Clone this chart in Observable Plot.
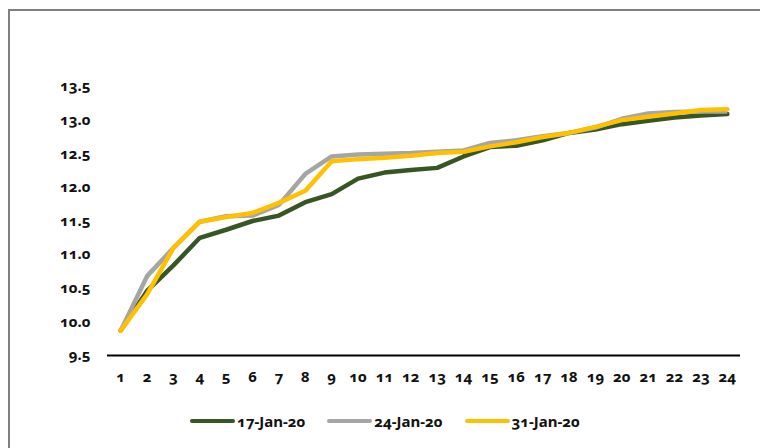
<!DOCTYPE html>
<html>
<head>
<meta charset="utf-8">
<script src="https://cdn.jsdelivr.net/npm/d3@7"></script>
<script src="https://cdn.jsdelivr.net/npm/@observablehq/plot@0.6"></script>
<style>
  html, body { margin: 0; padding: 0; background: #fff; width: 760px; height: 448px; overflow: hidden; }
  body { position: relative; font-family: "Noto Sans", Lato, sans-serif; }
  #frame { position: absolute; left: 8px; top: 9px; width: 800px; height: 500px; border: 2px solid #808080; box-sizing: border-box; }
  #chart { position: absolute; left: 0; top: 0; }
  #legend { position: absolute; left: 190px; top: 411px; display: flex; font-size: 15px; font-weight: 700; color: #111; font-feature-settings: "onum" 1; line-height: 20px; }
  .item { display: flex; align-items: center; }
  .sw { width: 45px; height: 4px; border-radius: 2px; margin-right: 2px; }
  svg text { font-feature-settings: "onum" 1; }
</style>
</head>
<body>
<div id="frame"></div>
<div id="chart"></div>
<div id="legend"></div>
<script>
const periods = d3.range(1, 25);
const seriesNames = ["17-Jan-20", "24-Jan-20", "31-Jan-20"];
const seriesColors = ["#375623", "#A5A5A5", "#FFC000"];
const jan17 = [9.87, 10.46, 10.84, 11.25, 11.37, 11.50, 11.58, 11.78, 11.90, 12.13, 12.22, 12.26, 12.29, 12.46, 12.60, 12.62, 12.70, 12.81, 12.86, 12.94, 12.99, 13.04, 13.07, 13.09];
const jan24 = [9.87, 10.68, 11.10, 11.49, 11.57, 11.58, 11.74, 12.20, 12.46, 12.49, 12.50, 12.51, 12.53, 12.55, 12.66, 12.70, 12.76, 12.81, 12.89, 13.02, 13.10, 13.12, 13.13, 13.13];
const jan31 = [9.87, 10.41, 11.10, 11.49, 11.56, 11.62, 11.77, 11.95, 12.39, 12.42, 12.44, 12.47, 12.51, 12.53, 12.61, 12.67, 12.75, 12.81, 12.90, 13.00, 13.05, 13.10, 13.15, 13.16];
const yTicks = [9.5, 10.0, 10.5, 11.0, 11.5, 12.0, 12.5, 13.0, 13.5];

const allSeries = [jan17, jan24, jan31];
const rows = [];
allSeries.forEach((vals, s) => vals.forEach((v, i) => rows.push({series: seriesNames[s], x: periods[i], y: v})));

const chart = Plot.plot({
  width: 760,
  height: 400,
  marginLeft: 107,
  marginRight: 20,
  marginTop: 86,
  marginBottom: 45,
  style: { fontFamily: "'Noto Sans', Lato, sans-serif", fontSize: "15px", fontWeight: 700, color: "#111", background: "transparent" },
  x: { type: "linear", domain: [0.5, 24.5], ticks: periods, tickSize: 0, tickPadding: 16, tickFormat: d => String(d), label: null },
  y: { domain: [9.5, 13.5], ticks: yTicks, tickSize: 0, tickPadding: 17, tickFormat: d => d.toFixed(1), label: null },
  color: { domain: seriesNames, range: seriesColors },
  marks: [
    Plot.ruleY([9.5], { stroke: "#000", strokeWidth: 2 }),
    Plot.line(rows.filter(d => d.series === seriesNames[0]), { x: "x", y: "y", stroke: "series", strokeWidth: 4.5, strokeLinejoin: "round", strokeLinecap: "round" }),
    Plot.line(rows.filter(d => d.series === seriesNames[1]), { x: "x", y: "y", stroke: "series", strokeWidth: 4.5, strokeLinejoin: "miter", strokeLinecap: "butt" }),
    Plot.line(rows.filter(d => d.series === seriesNames[2]), { x: "x", y: "y", stroke: "series", strokeWidth: 4.5, strokeLinejoin: "round", strokeLinecap: "round" })
  ]
});
document.getElementById("chart").appendChild(chart);

const legend = document.getElementById("legend");
seriesNames.forEach((n, i) => {
  const it = document.createElement("div");
  it.className = "item";
  it.style.marginRight = "22px";
  const sw = document.createElement("span");
  sw.className = "sw";
  sw.style.background = seriesColors[i];
  const t = document.createElement("span");
  t.textContent = n;
  it.appendChild(sw);
  it.appendChild(t);
  legend.appendChild(it);
});
</script>
</body>
</html>
